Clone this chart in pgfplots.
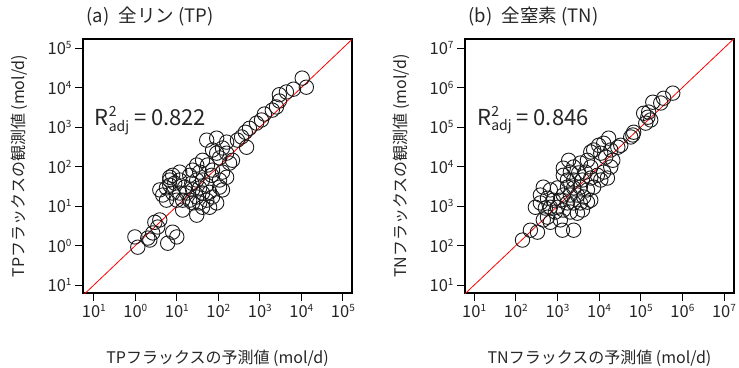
\documentclass[border=0pt]{standalone}
\usepackage{fontspec}
\setmainfont{Noto Sans CJK JP}
\usepackage{pgfplots}
\usepackage{pgfplotstable}
\pgfplotsset{compat=1.18}
\newcommand{\pw}[1]{10\raisebox{6pt}{\fontsize{10pt}{10pt}\selectfont #1}}
\newcommand{\rtwo}[1]{R\makebox[0pt][l]{\raisebox{9pt}{\fontsize{14pt}{14pt}\selectfont 2}}\raisebox{-5.5pt}{\fontsize{14pt}{14pt}\selectfont adj} = #1}

% log10 values (predicted, observed)
\pgfplotstableread{
x y
4.02 4.24
4.12 4.01
3.81 3.96
3.64 3.89
3.47 3.82
3.47 3.66
3.40 3.51
3.30 3.43
3.11 3.33
3.04 3.18
2.92 3.10
2.75 2.97
2.65 2.87
2.56 2.75
2.46 2.67
2.68 2.49
1.72 2.67
1.96 2.72
2.20 2.62
2.10 2.47
1.86 2.42
1.96 2.34
2.03 2.22
2.20 2.34
2.27 2.09
2.34 2.16
1.62 2.16
1.48 2.04
1.74 2.04
1.86 1.91
2.10 1.86
2.20 1.73
2.03 1.66
1.84 1.78
1.55 1.86
1.38 1.91
1.31 1.78
1.07 1.86
0.90 1.78
0.83 1.66
0.95 1.58
1.07 1.66
1.19 1.48
1.36 1.58
1.48 1.66
1.62 1.66
1.72 1.53
1.55 1.46
1.38 1.41
1.24 1.33
1.07 1.33
1.14 1.15
1.31 1.15
1.48 1.23
1.62 1.33
1.79 1.35
1.86 1.23
1.72 1.15
1.55 1.08
1.38 1.08
1.62 0.97
1.96 1.08
2.10 1.41
2.03 1.48
0.59 1.41
0.66 1.28
0.75 1.15
0.90 1.33
1.00 1.15
1.14 0.90
1.48 0.77
1.79 0.97
0.75 1.46
0.83 1.53
0.83 1.73
-0.01 0.22
0.06 -0.04
0.30 0.19
0.42 0.32
0.54 0.47
0.59 0.65
0.78 0.06
1.00 0.22
0.90 0.34
0.35 0.14
0.47 0.59
}\tptable

\pgfplotstableread{
x y
5.77 5.86
5.55 5.73
5.48 5.61
5.29 5.63
5.19 5.38
5.17 5.25
5.07 5.35
5.24 5.18
5.12 5.10
4.83 4.87
4.81 4.80
4.76 4.75
4.52 4.54
4.45 4.49
4.23 4.72
4.28 4.42
4.11 4.59
3.99 4.54
3.87 4.42
4.16 4.24
4.04 4.34
4.33 4.16
4.28 3.99
3.80 4.37
3.27 4.16
3.39 3.99
3.55 4.09
3.72 4.16
3.80 3.99
3.67 3.86
3.51 3.84
3.31 3.86
3.14 3.78
3.24 3.66
3.39 3.66
3.60 3.66
3.80 3.71
3.96 3.78
4.11 3.86
4.04 3.66
4.20 3.71
3.87 3.48
3.72 3.41
3.55 3.48
3.39 3.46
3.24 3.48
3.14 3.28
3.31 3.28
3.48 3.28
3.63 3.23
3.80 3.15
3.72 3.10
3.55 3.08
3.39 3.08
3.24 3.08
3.07 3.15
3.00 2.97
3.14 2.90
3.31 2.85
3.48 2.82
3.60 2.90
2.66 3.48
2.83 3.41
2.59 3.28
2.76 3.20
2.90 3.15
2.59 3.08
2.71 2.95
2.83 2.97
2.95 2.85
2.76 2.72
2.66 2.65
2.83 2.59
3.07 2.65
3.12 2.39
3.39 2.39
2.35 2.39
2.52 2.34
2.16 2.14
3.14 3.96
2.47 2.97
3.00 3.46
}\tntable

\pgfplotsset{myax/.style={
  scale only axis, width=269pt, height=254pt,
  tick pos=left, tick align=outside, major tick length=8pt,
  axis line style={line width=1.1pt, black},
  every tick/.style={line width=0.9pt, black},
  tick label style={font=\fontsize{16.5pt}{16.5pt}\selectfont, text=black!85},
  label style={font=\fontsize{16pt}{16pt}\selectfont, text=black!85},
  title style={font=\fontsize{18.5pt}{18.5pt}\selectfont, text=black!85, at={(axis description cs:0,1)}, anchor=base west, yshift=11pt},
  xlabel style={at={(axis description cs:0.5,-0.256)}, anchor=center},
  ylabel style={at={(axis description cs:-0.235,0.5)}, anchor=center},
}}
\pgfplotsset{pts/.style={only marks, mark=o, mark size=7.2pt, black!90, mark options={line width=0.9pt}}}

\begin{document}
\begin{tikzpicture}[x=1pt,y=1pt]
\path[use as bounding box] (0,0) rectangle (739,367);
\begin{axis}[myax, at={(83pt,74pt)}, anchor=south west,
  xmin=-1.26, xmax=5.22, ymin=-1.2, ymax=5.23,
  xtick={-1,0,1,2,3,4,5}, ytick={-1,0,1,2,3,4,5},
  xticklabels={\pw{1},\pw{0},\pw{1},\pw{2},\pw{3},\pw{4},\pw{5}},
  yticklabels={\pw{1},\pw{0},\pw{1},\pw{2},\pw{3},\pw{4},\pw{5}},
  title={(a)\hspace{0.5em}全リン (TP)},
  xlabel={TPフラックスの予測値 (mol/d)},
  ylabel={TPフラックスの観測値 (mol/d)}]
\addplot[red, line width=0.8pt] coordinates {(-1.4,-1.4) (5.4,5.4)};
\addplot[pts] table {\tptable};
\node[anchor=base west, font=\fontsize{22pt}{22pt}\selectfont, text=black!85, inner sep=0pt] at (axis cs:-0.98,3.03) {\rtwo{0.822}};
\end{axis}
\begin{axis}[myax, at={(465pt,74pt)}, anchor=south west,
  xmin=0.78, xmax=7.24, ymin=0.8, ymax=7.23,
  xtick={1,2,3,4,5,6,7}, ytick={1,2,3,4,5,6,7},
  xticklabels={\pw{1},\pw{2},\pw{3},\pw{4},\pw{5},\pw{6},\pw{7}},
  yticklabels={\pw{1},\pw{2},\pw{3},\pw{4},\pw{5},\pw{6},\pw{7}},
  title={(b)\hspace{0.5em}全窒素 (TN)},
  xlabel={TNフラックスの予測値 (mol/d)},
  ylabel={TNフラックスの観測値 (mol/d)}]
\addplot[red, line width=0.8pt] coordinates {(0.6,0.6) (7.4,7.4)};
\addplot[pts] table {\tntable};
\node[anchor=base west, font=\fontsize{22pt}{22pt}\selectfont, text=black!85, inner sep=0pt] at (axis cs:1.07,5.05) {\rtwo{0.846}};
\end{axis}
\end{tikzpicture}
\end{document}
